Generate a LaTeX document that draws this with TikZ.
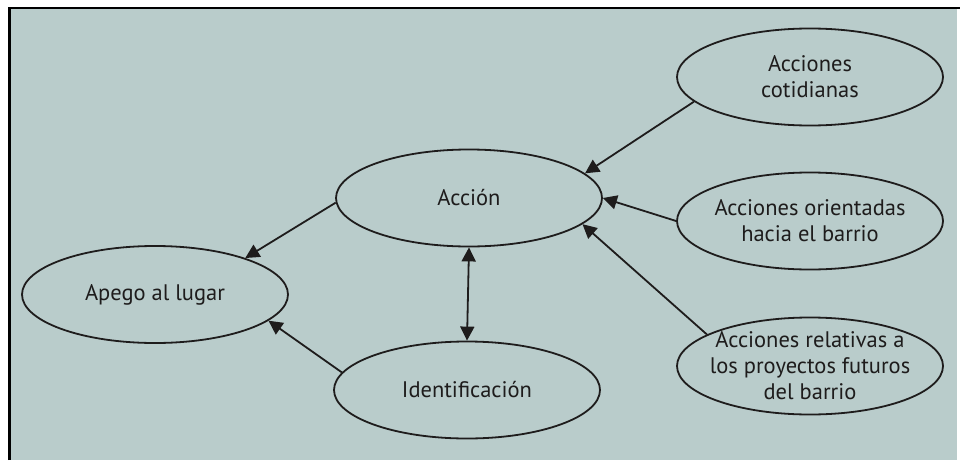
\documentclass[tikz,border=0pt]{standalone}
\usepackage{fontspec}
\setmainfont{PT Sans}
\usetikzlibrary{shapes.geometric,arrows.meta}
\definecolor{panel}{RGB}{185,204,203}
\definecolor{ink}{RGB}{30,28,28}

\begin{document}
\begin{tikzpicture}[x=1pt,y=-1pt,
  bubble/.style={ellipse,draw=ink,line width=1.8pt,minimum width=266pt,minimum height=97pt,inner sep=0pt},
  txt/.style={align=center,font=\fontsize{22.5}{26}\selectfont,text=ink,inner sep=0pt},
  link/.style={draw=ink,line width=1.8pt,-{Triangle[length=14pt,width=14pt]}},
  both/.style={draw=ink,line width=1.8pt,{Triangle[length=14pt,width=14pt]}-{Triangle[length=14pt,width=14pt]}}]

% page and panel
\useasboundingbox (0,0) rectangle (960,460);
\fill[white] (0,0) rectangle (960,460);
\fill[panel] (9,8) rectangle (957,460);
\draw[black,line width=2.5pt] (9.5,460) -- (9.5,8) -- (960,8);

% ellipses
\node[bubble] (accion) at (469,198) {};
\node[bubble] (apego) at (155,294.5) {};
\node[bubble] (ident) at (467,390) {};
\node[bubble] (cotid) at (810,77) {};
\node[bubble] (orient) at (810,221) {};
\node[bubble] (relat) at (810,366) {};

% texts
\node[txt] (accion-t) at (accion) {Acción};
\node[txt] (apego-t) at (apego) {Apego al lugar};
\node[txt] (ident-t) at (ident) {Identificación};
\node[txt] (cotid-t) at (cotid) {Acciones\\cotidianas};
\node[txt] (orient-t) at (orient) {Acciones orientadas\\hacia el barrio};
\node[txt] (relat-t) at (relat) {Acciones relativas a\\los proyectos futuros\\del barrio};

% connectors
\draw[link] (cotid.192.5) -- (accion.12.4);
\draw[link] (orient.180) -- (accion.0);
\draw[link] (relat.163.8) -- (accion.347.6);
\draw[link] (accion.182) -- (apego.22);
\draw[link] (ident.172.2) -- (apego.347.7);
\draw[both] (accion.south) -- (ident.north);
\end{tikzpicture}
\end{document}
